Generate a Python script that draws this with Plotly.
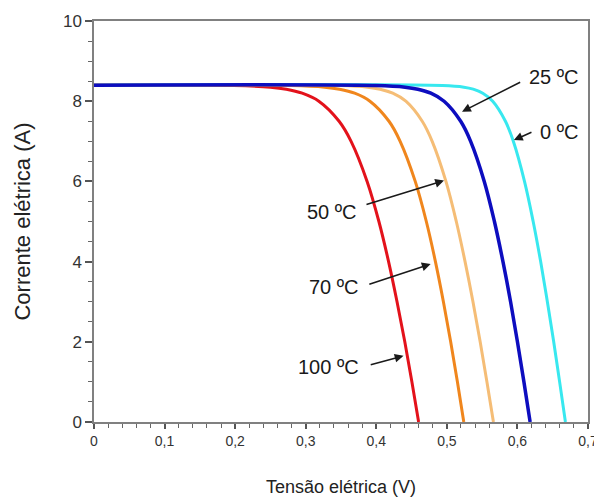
import plotly.graph_objects as go

# Data: current levels (A) and the voltage (V) of each curve at those levels
i_levels = [8.40, 8.39, 8.35, 8.30, 8.20, 8.00, 7.50, 7.00, 6.00, 5.00, 4.00, 3.00, 2.00, 1.00, 0.00]

v_100 = [0, 0.198, 0.250, 0.2725, 0.295, 0.3186, 0.3473, 0.3643, 0.387, 0.4037, 0.4174, 0.4294, 0.4404, 0.4505, 0.460]
v_70 = [0, 0.2784, 0.3269, 0.3479, 0.3693, 0.3910, 0.4180, 0.4338, 0.4552, 0.4709, 0.4838, 0.4951, 0.5054, 0.5150, 0.524]
v_50 = [0, 0.3474, 0.3878, 0.4054, 0.4233, 0.4419, 0.4651, 0.4792, 0.4987, 0.5134, 0.5258, 0.5370, 0.5472, 0.5568, 0.566]
v_25 = [0, 0.3994, 0.4408, 0.4589, 0.4773, 0.4961, 0.5196, 0.5337, 0.5530, 0.5674, 0.5795, 0.5903, 0.6000, 0.6092, 0.618]
v_0 = [0, 0.4938, 0.5241, 0.5373, 0.5509, 0.5650, 0.5830, 0.5942, 0.6100, 0.6223, 0.6329, 0.6424, 0.6514, 0.6598, 0.668]

x_ticks = [0, 0.1, 0.2, 0.3, 0.4, 0.5, 0.6, 0.7]
x_tick_labels = ["0", "0,1", "0,2", "0,3", "0,4", "0,5", "0,6", "0,7"]
y_ticks = [0, 2, 4, 6, 8, 10]

labels = ["100 ºC", "70 ºC", "50 ºC", "25 ºC", "0 ºC"]

series = [
    (v_100, "#e3121b", 3),
    (v_70, "#f0861d", 3),
    (v_50, "#f5bd76", 3),
    (v_0, "#38e8ef", 3),
    (v_25, "#0d0dbf", 3.5),
]

fig = go.Figure()
for v, c, w in series:
    fig.add_trace(go.Scatter(x=v, y=i_levels, mode="lines",
                             line=dict(color=c, width=w, shape="spline", smoothing=1.0),
                             showlegend=False, hoverinfo="skip"))

regular = "Liberation Sans, Arial, sans-serif"

# arrows: (text, text_x, text_y, anchor, tail_x, tail_y, head_x, head_y)
ann = [
    (labels[3], 0.613, 8.61, "left", 0.606, 8.49, 0.5215, 7.74),
    (labels[4], 0.629, 7.24, "left", 0.622, 7.24, 0.595, 7.03),
    (labels[2], 0.376, 5.24, "right", 0.384, 5.41, 0.496, 6.02),
    (labels[1], 0.378, 3.37, "right", 0.388, 3.42, 0.477, 3.94),
    (labels[0], 0.378, 1.38, "right", 0.390, 1.42, 0.4386, 1.65),
]
for t, tx, ty, anc, ax, ay, hx, hy in ann:
    fig.add_annotation(x=hx, y=hy, ax=ax, ay=ay, xref="x", yref="y", axref="x", ayref="y",
                       text="", showarrow=True, arrowhead=2, arrowsize=1.1, arrowwidth=1.6,
                       arrowcolor="#1a1a1a", standoff=0, startstandoff=0)
    fig.add_annotation(x=tx, y=ty, xref="x", yref="y", text=t, showarrow=False,
                       xanchor=anc, yanchor="middle",
                       font=dict(family=regular, size=20, color="#1a1a1a"))

# page body adds an 8px offset; figure sized so the plot area lands where the reference has it
fig.update_layout(
    width=594, height=495,
    margin=dict(l=86, r=14, t=13, b=81, autoexpand=False),
    paper_bgcolor="white", plot_bgcolor="white",
)
fig.update_xaxes(
    range=[0, 0.7], tickvals=x_ticks, ticktext=x_tick_labels, automargin=False,
    ticklabeloverflow="allow",
    showgrid=False, zeroline=False, showline=True, linecolor="#808080", linewidth=1.5, mirror=True,
    ticks="outside", ticklen=5, tickwidth=1.5, tickcolor="#555",
    minor=dict(dtick=0.02, ticks="outside", ticklen=4, tickwidth=1, tickcolor="#666", showgrid=False),
    tickfont=dict(family=regular, size=14, color="#333"),
    title=dict(text="Tensão elétrica (V)", font=dict(family=regular, size=18, color="#222"), standoff=33),
)
fig.update_yaxes(
    range=[0, 10], tickvals=y_ticks, automargin=False,
    showgrid=False, zeroline=False, showline=True, linecolor="#808080", linewidth=1.5, mirror=True,
    ticks="outside", ticklen=7, tickwidth=1.5, tickcolor="#555",
    minor=dict(dtick=0.5, ticks="outside", ticklen=4, tickwidth=1, tickcolor="#666", showgrid=False),
    tickfont=dict(family=regular, size=17, color="#333"),
    title=dict(text="Corrente elétrica (A)", font=dict(family=regular, size=22, color="#222"), standoff=26),
)

fig.write_html("out.html")
